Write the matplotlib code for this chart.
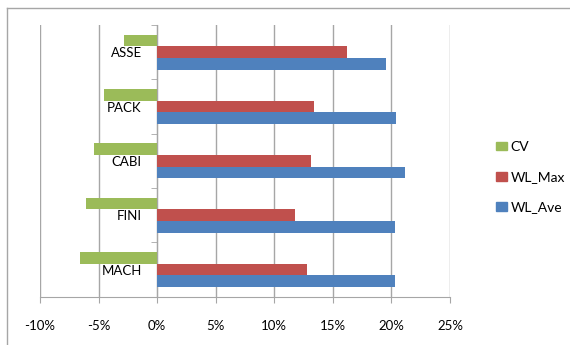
import numpy as np
import matplotlib.pyplot as plt
from matplotlib.patches import Patch
from matplotlib.ticker import FuncFormatter, MultipleLocator, FixedLocator

plt.rcParams['font.family'] = ['Lato', 'DejaVu Sans']

setores = ['ASSE', 'PACK', 'CABI', 'FINI', 'MACH']
cv = [-2.8, -4.5, -5.4, -6.1, -6.6]
wl_max = [16.2, 13.35, 13.1, 11.75, 12.75]
wl_ave = [19.5, 20.4, 21.2, 20.3, 20.3]

cor_cv = '#9BBB59'
cor_max = '#C0504D'
cor_ave = '#4F81BD'
cinza = '#A6A6A6'

fig = plt.figure(figsize=(5.7, 3.45), dpi=100)
ax = fig.add_axes([40/570, 1 - 296.7/345, 410/570, 271.7/345])

y = np.arange(len(setores))
h = 0.215
ax.barh(y - h, cv, height=h, color=cor_cv, label='CV', zorder=3)
ax.barh(y, wl_max, height=h, color=cor_max, label='WL_Max', zorder=3)
ax.barh(y + h, wl_ave, height=h, color=cor_ave, label='WL_Ave', zorder=3)

ax.set_xlim(-10, 25)
ax.set_ylim(len(setores) - 0.5, -0.5)
ax.xaxis.set_major_locator(MultipleLocator(5))
ax.xaxis.set_major_formatter(FuncFormatter(lambda v, p: f'{v:.0f}%'))
ax.grid(axis='x', color=cinza, linewidth=1, zorder=0)

# eixo das categorias passa pelo zero
ax.spines['left'].set_position(('data', 0))
ax.spines['left'].set_color(cinza)
ax.spines['bottom'].set_color(cinza)
ax.spines['top'].set_visible(False)
ax.spines['right'].set_visible(False)
ax.set_yticks(y)
ax.set_yticklabels(setores)
ax.yaxis.set_minor_locator(FixedLocator(np.arange(-0.5, len(setores), 1)))
ax.tick_params(axis='y', which='major', length=0, pad=11, labelsize=9.5)
ax.tick_params(axis='y', which='minor', length=4, color=cinza)
ax.tick_params(axis='x', length=4, color=cinza, labelsize=9.5, pad=13)

# moldura do gráfico
fig.add_artist(plt.Line2D([7/570, 7/570], [0, 1 - 8/345], color=cinza, lw=1))
fig.add_artist(plt.Line2D([7/570, 1], [1 - 8/345, 1 - 8/345], color=cinza, lw=1))

handles = [Patch(color=cor_cv, label='CV'),
           Patch(color=cor_max, label='WL_Max'),
           Patch(color=cor_ave, label='WL_Ave')]
fig.legend(handles=handles, loc='center left', bbox_to_anchor=(483/570, 1 - 177/345),
           frameon=False, fontsize=10, handlelength=0.8, handleheight=0.6,
           handletextpad=0.3, labelspacing=1.3)

plt.savefig('out.png', dpi=100)
